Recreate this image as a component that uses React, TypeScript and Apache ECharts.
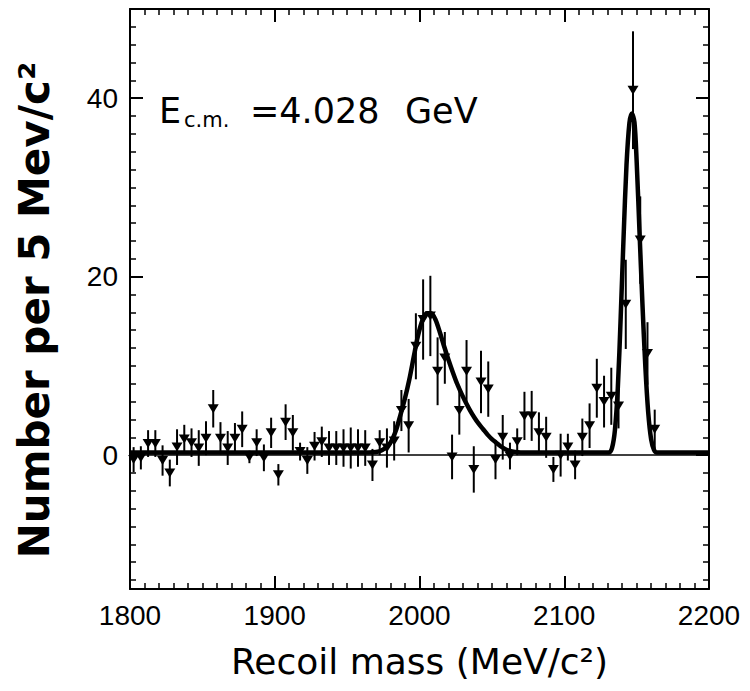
import React, { useEffect, useRef } from "react";
import * as echarts from "echarts";

// Recoil mass histogram, 5 MeV/c² bins (bin centres)
const binMass = [
  1802.5, 1807.5, 1812.5, 1817.5, 1822.5, 1827.5, 1832.5, 1837.5, 1842.5, 1847.5,
  1852.5, 1857.5, 1862.5, 1867.5, 1872.5, 1877.5, 1882.5, 1887.5, 1892.5, 1897.5,
  1902.5, 1907.5, 1912.5, 1917.5, 1922.5, 1927.5, 1932.5, 1937.5, 1942.5, 1947.5,
  1952.5, 1957.5, 1962.5, 1967.5, 1972.5, 1977.5, 1982.5, 1987.5, 1992.5, 1997.5,
  2002.5, 2007.5, 2012.5, 2017.5, 2022.5, 2027.5, 2032.5, 2037.5, 2042.5, 2047.5,
  2052.5, 2057.5, 2062.5, 2067.5, 2072.5, 2077.5, 2082.5, 2087.5, 2092.5, 2097.5,
  2102.5, 2107.5, 2112.5, 2117.5, 2122.5, 2127.5, 2132.5, 2137.5, 2142.5, 2147.5,
  2152.5, 2157.5, 2162.5,
];

// Events per bin
const counts = [
  -0.5, -0.3, 1.3, 1.3, -0.6, -2.0, 0.9, 1.8, 1.4, 0.8,
  1.9, 5.2, 1.9, 0.8, 1.9, 2.9, -0.2, 1.4, -0.3, 2.5,
  -2.2, 3.7, 2.5, 0.4, -0.6, 1.0, 1.5, 0.8, 0.8, 0.8,
  0.8, 0.8, 0.8, -1.1, 1.4, 0.8, 1.6, 5.0, 3.3, 12.2,
  15.2, 15.6, 9.4, 10.9, -0.2, 5.0, 9.4, -1.6, 8.2, 7.4,
  -0.5, 2.0, -0.1, 1.5, 4.4, 4.4, 2.5, 2.0, -1.6, 0.0,
  0.9, -1.1, 2.0, 3.3, 7.5, 6.0, 6.6, 5.5, 16.9, 40.9,
  24.1, 11.4, 2.9,
];

// Statistical error per bin (half length of the bar)
const errors = [
  1.4, 1.3, 1.5, 1.5, 1.7, 1.5, 2.0, 1.6, 1.6, 2.0,
  1.9, 2.1, 1.8, 1.9, 1.7, 2.0, 0.7, 1.5, 1.5, 1.7,
  1.2, 2.0, 2.0, 1.0, 1.5, 1.6, 1.7, 1.9, 1.9, 2.1,
  2.3, 2.1, 2.0, 1.8, 1.4, 2.2, 2.2, 2.3, 3.0, 3.7,
  4.5, 4.5, 3.8, 2.9, 2.5, 2.7, 3.5, 2.6, 3.5, 3.1,
  2.2, 2.5, 1.5, 1.5, 2.7, 2.8, 2.3, 2.3, 1.4, 2.4,
  1.5, 1.6, 2.1, 2.5, 3.3, 2.9, 3.2, 2.5, 5.0, 6.6,
  4.9, 3.5, 2.2,
];

// Fitted curve (two resonances on a flat background)
const fitMass = [
  1800, 1965, 1970, 1974, 1978, 1981, 1984, 1987, 1990, 1993,
  1996, 1999, 2002, 2005, 2008, 2011, 2014, 2017, 2020, 2023,
  2026, 2029, 2032, 2035, 2038, 2041, 2044, 2047, 2050, 2053,
  2056, 2059, 2062, 2066, 2070, 2131, 2133, 2135, 2137, 2139,
  2141, 2143, 2145, 2146.7, 2148.5, 2150, 2152, 2154, 2156, 2158,
  2160, 2162, 2164, 2200,
];
const fitValue = [
  0.3, 0.3, 0.35, 0.55, 1.0, 1.7, 2.9, 4.6, 6.4, 8.5,
  11.0, 13.4, 15.1, 15.9, 15.9, 15.2, 13.8, 12.2, 10.7, 9.3,
  8.0, 6.9, 5.9, 5.0, 4.2, 3.5, 2.9, 2.3, 1.8, 1.4,
  1.0, 0.7, 0.5, 0.35, 0.3, 0.3, 0.8, 2.8, 7.5, 15.5,
  24.5, 32.5, 37.2, 38.3, 37.3, 33.0, 25.0, 17.0, 10.0, 4.8,
  1.8, 0.6, 0.3, 0.3,
];

const yLabelTicks = [0, 20, 40];
const yMinorTicks: number[] = [];
for (let v = -14; v <= 48; v += 2) yMinorTicks.push(v);

const INK = "#000";
const NUM_FONT = "Liberation Sans";
const TEXT_FONT = "DejaVu Sans";

export default function App() {
  const ref = useRef<HTMLDivElement>(null);

  useEffect(() => {
    if (!ref.current) return;
    const chart = echarts.init(ref.current, undefined, { renderer: "svg" });

    const xCommon = {
      type: "value" as const,
      min: 1800,
      max: 2200,
      interval: 100,
      splitLine: { show: false },
      axisLine: { show: true, onZero: false, lineStyle: { color: INK, width: 2 } },
      axisTick: { show: true, inside: true, length: 13, lineStyle: { color: INK, width: 2 } },
      minorTick: { show: true, splitNumber: 10, length: 6, lineStyle: { color: INK, width: 1.5 } },
      minorSplitLine: { show: false },
    };

    const yCommon = {
      type: "value" as const,
      min: -15,
      max: 50,
      splitLine: { show: false },
    };

    const yMinor = (position: "left" | "right") => ({
      ...yCommon,
      position,
      axisLine: { show: true, onZero: false, lineStyle: { color: INK, width: 2 } },
      axisTick: {
        show: true,
        inside: true,
        length: 6,
        customValues: yMinorTicks,
        lineStyle: { color: INK, width: 1.5 },
      },
      axisLabel: { show: false },
    });

    const yMajor = (position: "left" | "right", labels: boolean) => ({
      ...yCommon,
      position,
      axisLine: { show: false, onZero: false },
      axisTick: {
        show: true,
        inside: true,
        length: 13,
        customValues: yLabelTicks,
        lineStyle: { color: INK, width: 2 },
      },
      axisLabel: {
        show: labels,
        customValues: yLabelTicks,
        formatter: (v: number) => String(v),
        fontSize: 28,
        fontFamily: NUM_FONT,
        color: INK,
        margin: 12,
      },
    });

    chart.setOption({
      animation: false,
      backgroundColor: "#fff",
      grid: { left: 130, right: 41, top: 9, bottom: 102, containLabel: false },
      xAxis: [
        {
          ...xCommon,
          position: "bottom",
          axisLabel: {
            fontSize: 28,
            fontFamily: NUM_FONT,
            color: INK,
            margin: 12,
            formatter: (v: number) => String(v),
          },
          name: "Recoil mass (MeV/c²)",
          nameLocation: "middle",
          nameGap: 54,
          nameTextStyle: { fontSize: 36, fontFamily: TEXT_FONT, color: INK },
        },
        { ...xCommon, position: "top", axisLabel: { show: false } },
      ],
      yAxis: [yMinor("left"), yMajor("left", true), yMinor("right"), yMajor("right", false)],
      graphic: [
        {
          type: "text",
          x: 34,
          y: 310,
          rotation: Math.PI / 2,
          style: {
            text: "Number per 5 Mev/c²",
            fontSize: 42,
            fontWeight: "bold",
            fontFamily: TEXT_FONT,
            fill: INK,
            textAlign: "center",
            textVerticalAlign: "middle",
          },
        },
        {
          type: "text",
          x: 159,
          y: 111,
          style: { text: "E", fontSize: 35, fontFamily: TEXT_FONT, fill: INK, textVerticalAlign: "middle" },
        },
        {
          type: "text",
          x: 184,
          y: 120,
          style: { text: "c.m.", fontSize: 21, fontFamily: TEXT_FONT, fill: INK, textVerticalAlign: "middle" },
        },
        {
          type: "text",
          x: 250,
          y: 111,
          style: { text: "=4.028", fontSize: 35, fontFamily: TEXT_FONT, fill: INK, textVerticalAlign: "middle" },
        },
        {
          type: "text",
          x: 405,
          y: 111,
          style: { text: "GeV", fontSize: 35, fontFamily: TEXT_FONT, fill: INK, textVerticalAlign: "middle" },
        },
      ],
      series: [
        {
          // fitted line shape, plus the zero reference line
          type: "line",
          xAxisIndex: 0,
          yAxisIndex: 0,
          data: fitMass.map((m, i) => [m, fitValue[i]]),
          showSymbol: false,
          smooth: 0.3,
          lineStyle: { color: INK, width: 4.5 },
          z: 2,
          markLine: {
            silent: true,
            symbol: "none",
            label: { show: false },
            lineStyle: { color: INK, width: 1.6, type: "solid" },
            data: [{ yAxis: 0 }],
          },
        },
        {
          // vertical error bars
          type: "custom",
          xAxisIndex: 0,
          yAxisIndex: 0,
          data: binMass.map((m, i) => [m, counts[i] - errors[i], counts[i] + errors[i]]),
          encode: { x: 0, y: [1, 2] },
          renderItem: (_params: any, api: any) => {
            const x = api.value(0);
            const lo = api.coord([x, api.value(1)]);
            const hi = api.coord([x, api.value(2)]);
            return {
              type: "line",
              shape: { x1: lo[0], y1: lo[1], x2: hi[0], y2: hi[1] },
              style: { stroke: INK, lineWidth: 2 },
            };
          },
          z: 3,
        },
        {
          // bin contents
          type: "scatter",
          xAxisIndex: 0,
          yAxisIndex: 0,
          data: binMass.map((m, i) => [m, counts[i]]),
          symbol: "triangle",
          symbolRotate: 180,
          symbolSize: [11, 9],
          itemStyle: { color: INK, opacity: 1 },
          z: 4,
        },
      ],
    });

    return () => chart.dispose();
  }, []);

  return (
    <div
      ref={ref}
      style={{ position: "fixed", left: 0, top: 0, width: 750, height: 691, background: "#fff" }}
    />
  );
}
